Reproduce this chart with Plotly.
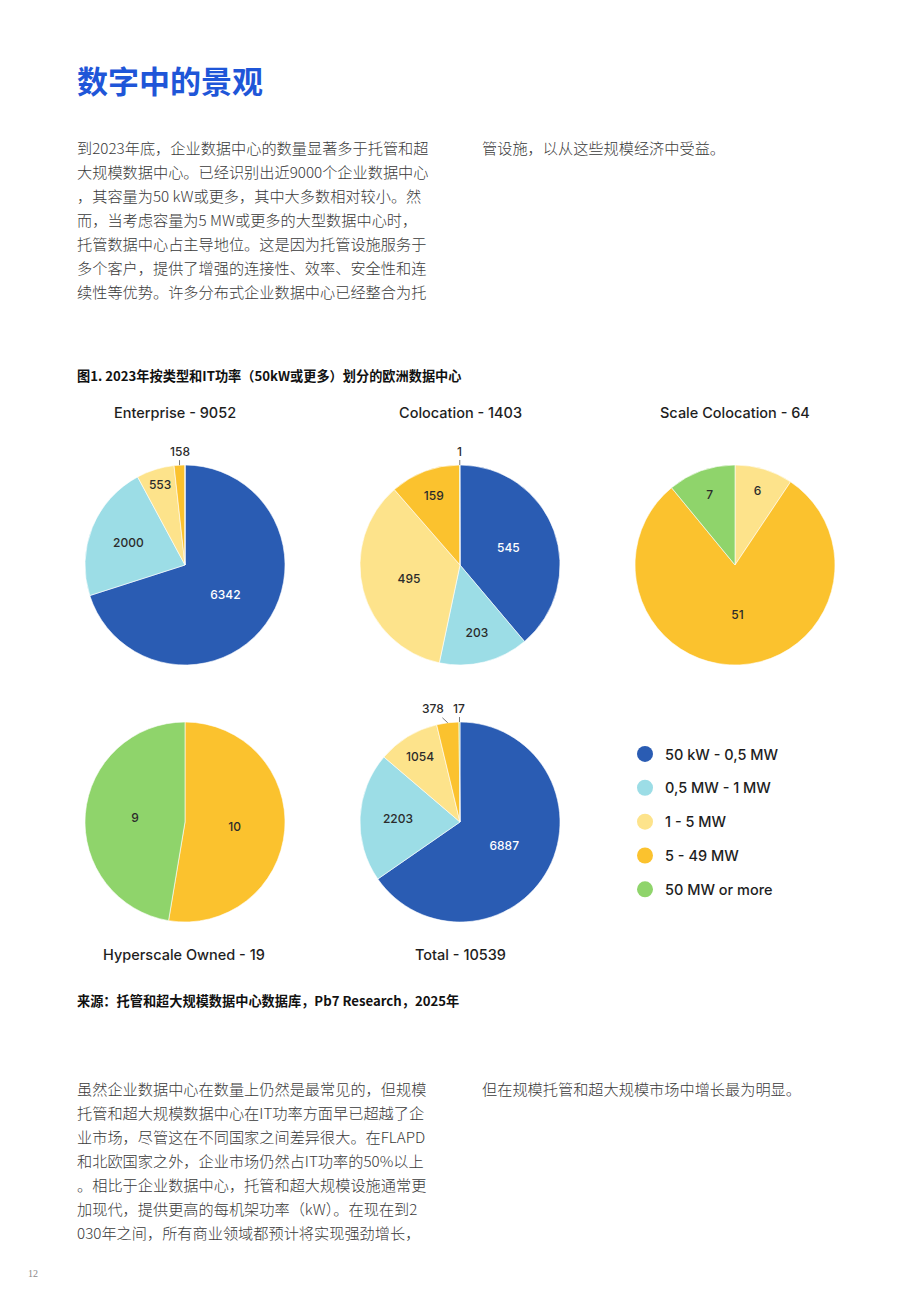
import math
import plotly.graph_objects as go

# ---------------- data ----------------
categories = ["50 kW - 0,5 MW", "0,5 MW - 1 MW", "1 - 5 MW", "5 - 49 MW", "50 MW or more"]
enterprise = [6342, 2000, 553, 158, 0]
colocation = [545, 203, 495, 159, 1]
scale_colocation = [0, 0, 6, 51, 7]
hyperscale_owned = [0, 0, 0, 10, 9]
total = [6887, 2203, 1054, 378, 17]
pie_titles = ["Enterprise - 9052", "Colocation - 1403", "Scale Colocation - 64",
              "Hyperscale Owned - 19", "Total - 10539"]

page_title = "数字中的景观"
para1_left = [
    "到2023年底，企业数据中心的数量显著多于托管和超",
    "大规模数据中心。已经识别出近9000个企业数据中心",
    "，其容量为50 kW或更多，其中大多数相对较小。然",
    "而，当考虑容量为5 MW或更多的大型数据中心时，",
    "托管数据中心占主导地位。这是因为托管设施服务于",
    "多个客户，提供了增强的连接性、效率、安全性和连",
    "续性等优势。许多分布式企业数据中心已经整合为托",
]
para1_right = ["管设施，以从这些规模经济中受益。"]
para2_left = [
    "虽然企业数据中心在数量上仍然是最常见的，但规模",
    "托管和超大规模数据中心在IT功率方面早已超越了企",
    "业市场，尽管这在不同国家之间差异很大。在FLAPD",
    "和北欧国家之外，企业市场仍然占IT功率的50%以上",
    "。相比于企业数据中心，托管和超大规模设施通常更",
    "加现代，提供更高的每机架功率（kW）。在现在到2",
    "030年之间，所有商业领域都预计将实现强劲增长，",
]
para2_right = ["但在规模托管和超大规模市场中增长最为明显。"]
figure_caption = "图1. 2023年按类型和IT功率（50kW或更多）划分的欧洲数据中心"
source_note = "来源：托管和超大规模数据中心数据库，Pb7 Research，2025年"
page_number = "12"

# ---------------- style / layout ----------------
W, H = 920, 1302
colors = ["#2a5cb3", "#9cdde6", "#fde38b", "#fbc22e", "#8fd46b"]
text_colors = ["#ffffff", "#2b2b2b", "#2b2b2b", "#2b2b2b", "#2b2b2b"]
LATIN = "Inter, 'Noto Sans', sans-serif"
CJK = "'Noto Sans CJK SC', 'Noto Sans', sans-serif"
R = 100
pies = [
    (enterprise, 185, 565, 175, 413),
    (colocation, 460, 565, 460, 413),
    (scale_colocation, 735, 565, 735, 413),
    (hyperscale_owned, 185, 822, 184, 955),
    (total, 460, 822, 460, 955),
]
small_frac = 0.04
CHAR_W = 7.5
LABEL_GAP = 8


def px(x):
    return x / W


def py(y):
    return 1 - y / H


fig = go.Figure()
annotations = []

for (vals, cx, cy, tx, ty), title in zip(pies, pie_titles):
    s = sum(vals)
    positions = ["inside" if v / s >= small_frac else "none" for v in vals]
    fig.add_trace(go.Pie(
        labels=categories, values=vals, sort=False, direction="clockwise",
        rotation=0, showlegend=False,
        marker=dict(colors=colors, line=dict(color="white", width=0.6)),
        texttemplate="%{value}", textposition=positions,
        insidetextorientation="horizontal",
        insidetextfont=dict(family=LATIN, size=12, color=text_colors, weight=500),
        hoverinfo="label+value",
        domain=dict(x=[px(cx - R), px(cx + R)], y=[py(cy + R), py(cy - R)]),
    ))
    # outside labels for tiny slices (with simple collision avoidance)
    cum = 0
    labels = []
    for v in vals:
        if v > 0 and v / s < small_frac:
            mid = (cum + v / 2) / s
            th = 2 * math.pi * mid
            ex = cx + R * math.sin(th)
            ey = cy - R * math.cos(th)
            labels.append([v, ex, ey, ex, len(str(v)) * CHAR_W])
        cum += v
    for i in range(len(labels) - 2, -1, -1):
        lim = labels[i + 1][3] - (labels[i][4] + labels[i + 1][4]) / 2 - LABEL_GAP
        if labels[i][3] > lim:
            labels[i][3] = lim
    for v, ex, ey, lx, _ in labels:
        annotations.append(dict(
            x=px(ex), y=py(ey), xref="paper", yref="paper",
            text=str(v), showarrow=True, arrowhead=0, arrowwidth=1,
            arrowcolor="#7a7a7a", ax=round(lx - ex), ay=-14,
            font=dict(family=LATIN, size=12, color="#2b2b2b", weight=500),
        ))
    annotations.append(dict(
        x=px(tx), y=py(ty), xref="paper", yref="paper", text=title,
        showarrow=False, xanchor="center", yanchor="middle",
        font=dict(family=LATIN, size=14.5, color="#1e1e1e", weight=500),
    ))

# legend via dummy traces
for c, name in zip(colors, categories):
    fig.add_trace(go.Scatter(
        x=[None], y=[None], mode="markers", name=name, legendgroup=name,
        marker=dict(color=c, size=16, symbol="circle"),
    ))


def add_lines(lines, x, y0, step, size, color, weight=400, family=CJK):
    for i, t in enumerate(lines):
        annotations.append(dict(
            x=px(x), y=py(y0 + i * step), xref="paper", yref="paper", text=t,
            showarrow=False, xanchor="left", yanchor="middle",
            font=dict(family=family, size=size, color=color, weight=weight),
        ))


add_lines([page_title], 75, 80, 0, 31, "#1f56d8", 700)
add_lines(para1_left, 75, 147, 24, 15.2, "#3a3a3a", 300)
add_lines(para1_right, 480, 147, 24, 15.2, "#3a3a3a", 300)
add_lines([figure_caption], 75, 375, 0, 13.2, "#111111", 700)
add_lines([source_note], 75, 1000, 0, 13.2, "#111111", 700)
add_lines(para2_left, 75, 1088, 24, 15.2, "#3a3a3a", 300)
add_lines(para2_right, 480, 1088, 24, 15.2, "#3a3a3a", 300)
add_lines([page_number], 26, 1273, 0, 10, "#8a8a8a", 400, "'Liberation Serif', serif")

fig.update_layout(
    width=W, height=H, margin=dict(l=0, r=0, t=0, b=0),
    paper_bgcolor="white", plot_bgcolor="white",
    xaxis=dict(visible=False), yaxis=dict(visible=False),
    annotations=annotations,
    showlegend=True,
    legend=dict(
        x=px(625), y=py(738), xanchor="left", yanchor="top",
        traceorder="grouped", tracegroupgap=12,
        font=dict(family=LATIN, size=14.5, color="#1e1e1e", weight=500),
        bgcolor="rgba(0,0,0,0)", borderwidth=0, itemclick=False,
    ),
)

fig.write_html("out.html")
